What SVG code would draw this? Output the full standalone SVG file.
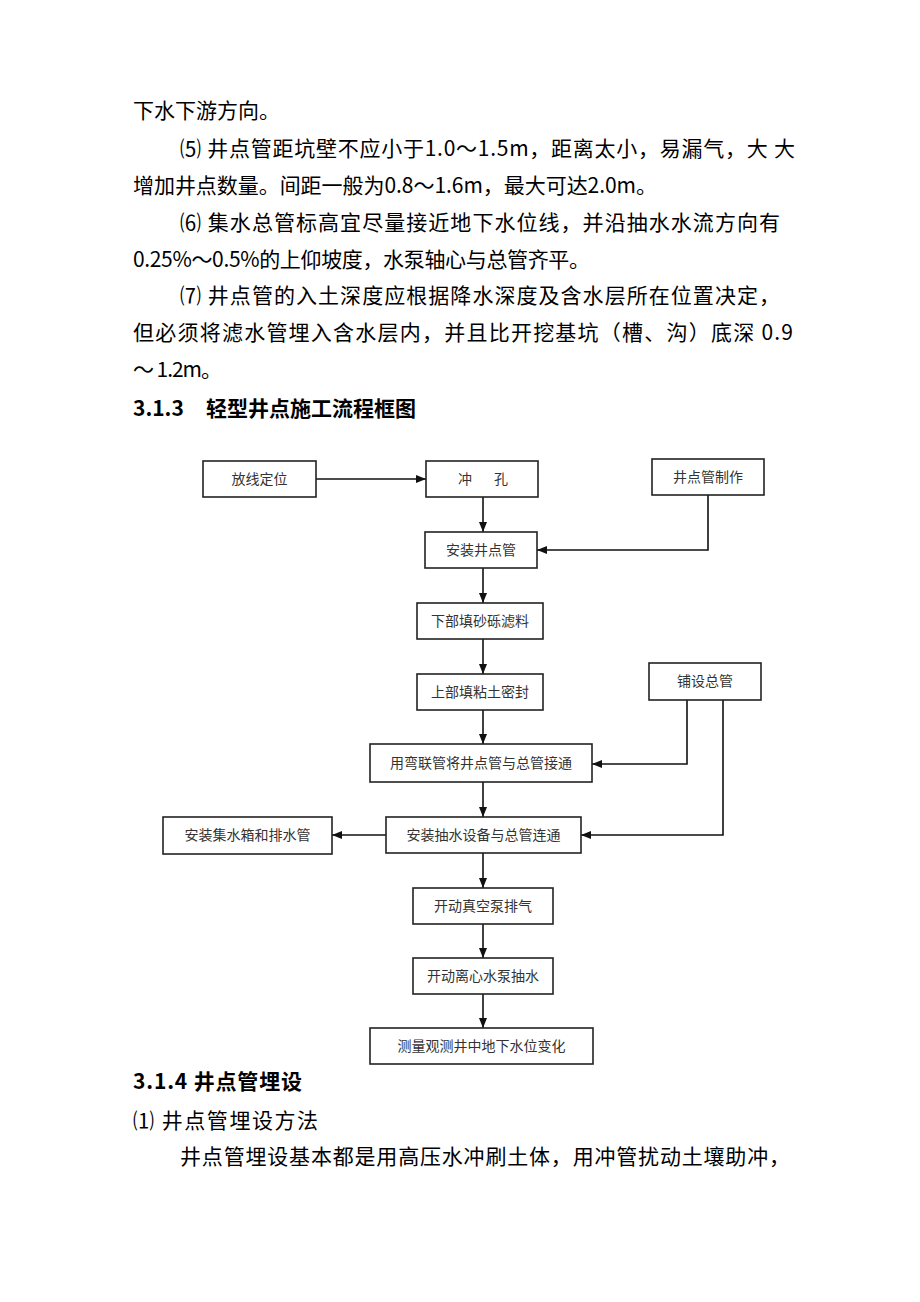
<svg xmlns="http://www.w3.org/2000/svg" width="920" height="1302" viewBox="0 0 920 1302">
<style>
.body{font-family:"Noto Sans CJK SC","Liberation Sans",sans-serif;font-size:21px;fill:#000}
.head{font-family:"Noto Sans CJK SC","Liberation Sans",sans-serif;font-size:21px;font-weight:bold;fill:#000}
.box{fill:#fff;stroke:#222;stroke-width:1.6}
.lbl{font-family:"Noto Sans CJK SC","Liberation Sans",sans-serif;font-size:14px;fill:#333;text-anchor:middle}
.conn{fill:none;stroke:#111;stroke-width:1.6}
</style>
<defs>
<marker id="arr" viewBox="0 0 10 8" refX="10" refY="4" markerWidth="10" markerHeight="8" markerUnits="userSpaceOnUse" orient="auto">
<path d="M0,0 L10,4 L0,8 Z" fill="#111"/>
</marker>
</defs>
<rect width="920" height="1302" fill="#fff"/>
<g id="text-top">
<text class="body" x="133" y="118">下水下游方向。</text>
<text class="body" x="180" y="155.5" textLength="615" lengthAdjust="spacing">⑸ 井点管距坑壁不应小于1.0～1.5m，距离太小，易漏气，大 大</text>
<text class="body" x="133" y="192.5" textLength="524" lengthAdjust="spacing">增加井点数量。间距一般为0.8～1.6m，最大可达2.0m。</text>
<text class="body" x="180" y="229.5" textLength="600" lengthAdjust="spacing">⑹ 集水总管标高宜尽量接近地下水位线，并沿抽水水流方向有</text>
<text class="body" x="133" y="266.5" textLength="457" lengthAdjust="spacing">0.25%～0.5%的上仰坡度，水泵轴心与总管齐平。</text>
<text class="body" x="180" y="303" textLength="600" lengthAdjust="spacing">⑺ 井点管的入土深度应根据降水深度及含水层所在位置决定，</text>
<text class="body" x="133" y="339.5" textLength="660" lengthAdjust="spacing">但必须将滤水管埋入含水层内，并且比开挖基坑（槽、沟）底深 0.9</text>
<text class="body" x="133" y="376.5" textLength="89" lengthAdjust="spacing">～ 1.2m。</text>
<text class="head" x="133" y="416">3.1.3<tspan x="206">轻型井点施工流程框图</tspan></text>
</g>
<g id="connectors">
<line class="conn" x1="316" y1="479" x2="426" y2="479" marker-end="url(#arr)"/>
<line class="conn" x1="483" y1="497" x2="483" y2="532" marker-end="url(#arr)"/>
<polyline class="conn" points="708,495 708,550 537,550" marker-end="url(#arr)"/>
<line class="conn" x1="483" y1="568" x2="483" y2="603" marker-end="url(#arr)"/>
<line class="conn" x1="483" y1="639" x2="483" y2="674" marker-end="url(#arr)"/>
<line class="conn" x1="483" y1="710" x2="483" y2="744" marker-end="url(#arr)"/>
<polyline class="conn" points="687,700 687,764 592,764" marker-end="url(#arr)"/>
<polyline class="conn" points="723,700 723,835 581,835" marker-end="url(#arr)"/>
<line class="conn" x1="483" y1="782" x2="483" y2="817" marker-end="url(#arr)"/>
<line class="conn" x1="386" y1="835" x2="332" y2="835" marker-end="url(#arr)"/>
<line class="conn" x1="483" y1="853" x2="483" y2="888" marker-end="url(#arr)"/>
<line class="conn" x1="483" y1="924" x2="483" y2="958" marker-end="url(#arr)"/>
<line class="conn" x1="483" y1="994" x2="483" y2="1028" marker-end="url(#arr)"/>
</g>
<g id="n1"><rect class="box" x="203" y="461" width="113" height="36"/><text class="lbl" x="259.5" y="484">放线定位</text></g>
<g id="n2"><rect class="box" x="426" y="461" width="112" height="36"/><text class="lbl" x="483" y="484" textLength="50" lengthAdjust="spacing">冲　孔</text></g>
<g id="n3"><rect class="box" x="652" y="459" width="112" height="36"/><text class="lbl" x="708" y="482">井点管制作</text></g>
<g id="n4"><rect class="box" x="425" y="532" width="112" height="36"/><text class="lbl" x="481" y="555">安装井点管</text></g>
<g id="n5"><rect class="box" x="417" y="603" width="126" height="36"/><text class="lbl" x="480" y="626">下部填砂砾滤料</text></g>
<g id="n6"><rect class="box" x="417" y="674" width="126" height="36"/><text class="lbl" x="480" y="697">上部填粘土密封</text></g>
<g id="n7"><rect class="box" x="649" y="663" width="112" height="37"/><text class="lbl" x="705" y="686">铺设总管</text></g>
<g id="n8"><rect class="box" x="370" y="744" width="222" height="38"/><text class="lbl" x="481" y="768">用弯联管将井点管与总管接通</text></g>
<g id="n9"><rect class="box" x="163" y="817" width="169" height="37"/><text class="lbl" x="247.5" y="840">安装集水箱和排水管</text></g>
<g id="n10"><rect class="box" x="386" y="817" width="195" height="36"/><text class="lbl" x="483.5" y="840">安装抽水设备与总管连通</text></g>
<g id="n11"><rect class="box" x="413" y="888" width="140" height="36"/><text class="lbl" x="483" y="911">开动真空泵排气</text></g>
<g id="n12"><rect class="box" x="413" y="958" width="140" height="36"/><text class="lbl" x="483" y="981">开动离心水泵抽水</text></g>
<g id="n13"><rect class="box" x="370" y="1028" width="223" height="36"/><text class="lbl" x="481.5" y="1051">测量观测井中地下水位变化</text></g>
<g id="text-bottom">
<text class="head" x="133" y="1089" textLength="169" lengthAdjust="spacing">3.1.4 井点管埋设</text>
<text class="body" x="133" y="1128" textLength="185" lengthAdjust="spacing">⑴ 井点管埋设方法</text>
<text class="body" x="180" y="1164" textLength="610" lengthAdjust="spacing">井点管埋设基本都是用高压水冲刷土体，用冲管扰动土壤助冲，</text>
</g>
</svg>
